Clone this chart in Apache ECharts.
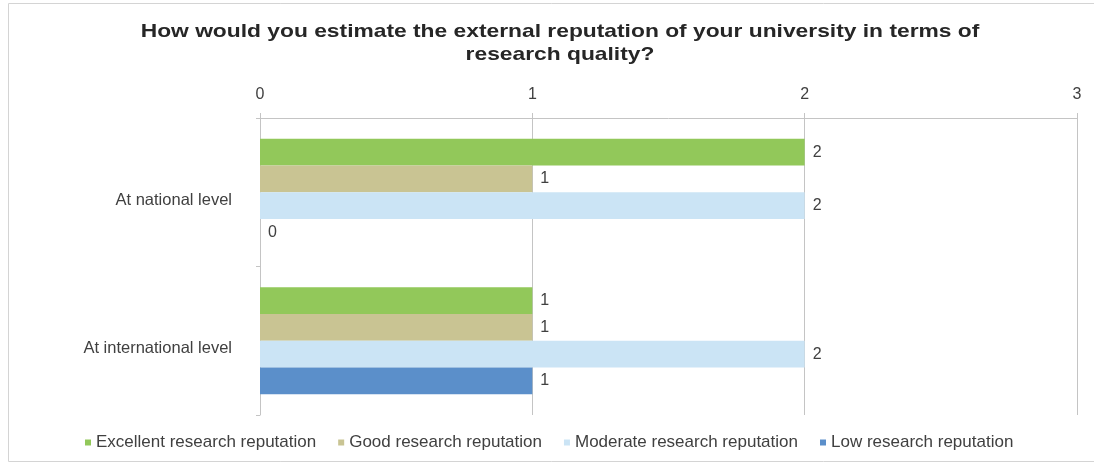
<!DOCTYPE html>
<html>
<head>
<meta charset="utf-8">
<script src="https://cdn.jsdelivr.net/npm/echarts@6/dist/echarts.min.js"></script>
<style>
  html, body { margin: 0; padding: 0; background: #ffffff; }
  #chart { width: 1094px; height: 465px; }
</style>
</head>
<body>
<div id="chart"></div>
<script>
// Survey answers: number of respondents per reputation rating
const categories = ['At national level', 'At international level'];
const seriesNames = [
  'Excellent research reputation',
  'Good research reputation',
  'Moderate research reputation',
  'Low research reputation'
];
const excellent = [2, 1];
const good = [1, 1];
const moderate = [2, 2];
const low = [0, 1];
const xTicks = [0, 1, 2, 3];
const titleText = 'How would you estimate the external reputation of your university in terms of\nresearch quality?';

const colors = ['#92c85a', '#c9c493', '#cbe4f5', '#5b8fca'];
const values = [excellent, good, moderate, low];

const textColor = '#404040';
const gridColor = '#c4c4c4';
const fontFamily = '"Liberation Sans", Arial, sans-serif';

const chart = echarts.init(document.getElementById('chart'), null, { renderer: 'canvas' });

chart.setOption({
  animation: false,
  textStyle: { fontFamily: fontFamily },
  graphic: [
    {
      type: 'rect',
      shape: { x: 8.5, y: 3.5, width: 1100, height: 458 },
      style: { fill: 'none', stroke: '#d4d4d4', lineWidth: 1 },
      silent: true
    },
    {
      // wide bold heading, stretched horizontally around its centre
      type: 'text',
      x: 560,
      y: 20,
      scaleX: 1.2,
      silent: true,
      style: {
        text: titleText,
        font: 'bold 19px "Liberation Sans", Arial, sans-serif',
        fill: '#262626',
        align: 'center',
        verticalAlign: 'top',
        lineHeight: 23
      }
    }
  ],
  legend: {
    data: seriesNames,
    left: 80,
    top: 429,
    icon: 'rect',
    itemWidth: 6,
    itemHeight: 6,
    itemGap: 22,
    textStyle: { fontFamily: fontFamily, fontSize: 17, color: textColor }
  },
  grid: {
    left: 260,
    right: 17,
    top: 118,
    bottom: 50,
    containLabel: false
  },
  xAxis: {
    type: 'value',
    position: 'top',
    min: xTicks[0],
    max: xTicks[xTicks.length - 1],
    interval: 1,
    axisLine: { show: true, lineStyle: { color: gridColor } },
    axisTick: { show: true, length: 5, lineStyle: { color: gridColor } },
    axisLabel: {
      margin: 15,
      fontSize: 16,
      color: textColor,
      formatter: v => String(v)
    },
    splitLine: { show: true, lineStyle: { color: gridColor } }
  },
  yAxis: {
    type: 'category',
    inverse: true,
    data: categories,
    axisLine: { show: true, lineStyle: { color: gridColor } },
    axisTick: { show: true, length: 4, lineStyle: { color: gridColor } },
    axisLabel: {
      margin: 28,
      fontSize: 16.5,
      color: textColor,
      verticalAlign: 'top',
      lineHeight: 16
    }
  },
  series: seriesNames.map((name, i) => ({
    name: name,
    type: 'bar',
    data: values[i],
    barGap: '0%',
    barCategoryGap: '28%',
    itemStyle: { color: colors[i] },
    label: {
      show: true,
      position: 'right',
      distance: 8,
      fontSize: 16,
      color: textColor
    }
  }))
});
</script>
</body>
</html>
